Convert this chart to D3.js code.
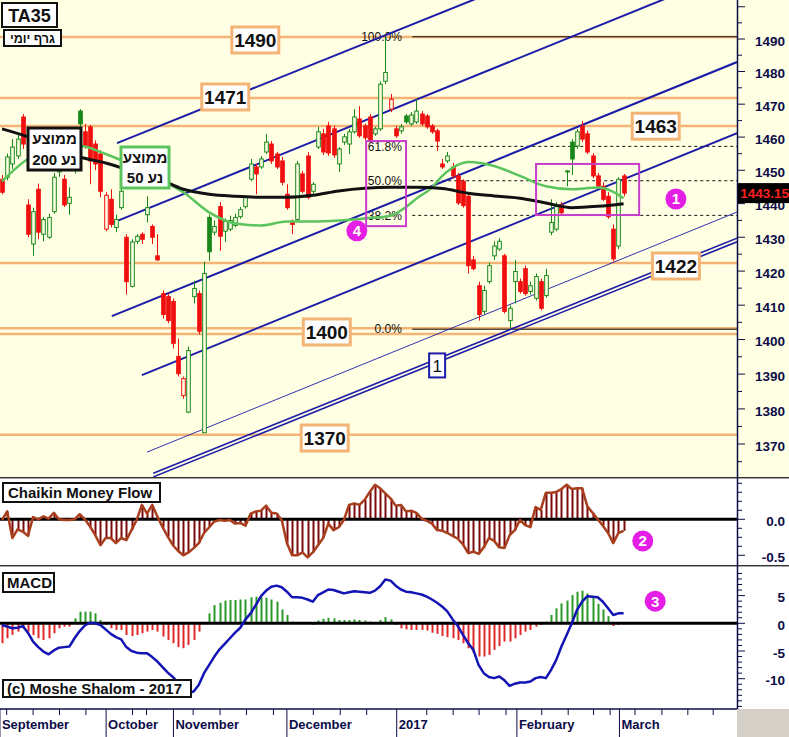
<!DOCTYPE html>
<html>
<head>
<meta charset="utf-8">
<script src="https://d3js.org/d3.v7.min.js"></script>
<style>
  html, body { margin: 0; padding: 0; background: #ffffff; }
  svg { display: block; font-family: "Liberation Sans", Arial, sans-serif; }
</style>
</head>
<body>
<div id="chart"></div>
<script>
// Daily candles, TA35, Sep 2016 - Mar 2017
const opens = [
  1447.3,1447.9,1451.9,1454.3,1466.1,1439.6,1428.0,1444.3,1430.9,1430.0,
  1437.6,1449.5,1447.3,1440.1,1450.4,1467.9,1461.6,1463.1,1457.9,1454.9,
  1432.4,1441.3,1432.9,1438.8,1430.0,1415.5,1428.8,1430.9,1436.7,1433.2,
  1424.5,1413.4,1412.5,1411.1,1395.1,1383.8,1379.1,1412.5,1413.4,1373.2,
  1435.9,1431.5,1439.1,1431.8,1432.4,1433.5,1436.1,1439.1,1447.3,1451.0,
  1451.0,1455.5,1457.9,1454.9,1452.8,1442.8,1434.7,1435.3,1448.9,1454.3,
  1443.7,1457.0,1461.0,1463.4,1462.5,1451.9,1458.5,1457.9,1461.6,1465.5,
  1463.4,1466.1,1461.0,1462.5,1477.0,1468.5,1462.5,1461.9,1466.4,1464.0,
  1464.6,1467.0,1466.4,1463.4,1461.9,1451.9,1452.8,1451.0,1448.3,1446.7,
  1442.2,1423.3,1415.7,1408.2,1416.9,1424.5,1426.5,1424.5,1405.5,1416.9,
  1416.9,1420.7,1414.0,1412.0,1416.9,1412.8,1431.5,1432.4,1439.6,1449.5,
  1458.5,1457.3,1463.4,1461.0,1454.3,1448.3,1445.2,1442.2,1432.4,1427.4,
  1448.3];
const highs = [
  1448.6,1455.0,1459.4,1460.7,1467.0,1441.3,1438.8,1446.0,1436.0,1437.0,
  1449.2,1452.0,1448.6,1444.9,1455.5,1468.5,1464.0,1463.7,1459.0,1456.0,
  1443.4,1444.3,1436.7,1444.9,1430.9,1429.4,1430.9,1431.5,1442.2,1433.8,
  1430.9,1414.3,1413.4,1412.0,1400.3,1389.3,1398.0,1417.2,1414.3,1422.8,
  1436.7,1435.0,1440.5,1435.6,1436.4,1437.0,1439.0,1442.5,1453.4,1451.9,
  1454.3,1461.0,1458.8,1455.5,1454.0,1445.8,1435.3,1452.8,1449.8,1455.5,
  1446.4,1463.1,1462.5,1464.6,1463.5,1457.0,1461.0,1462.5,1468.5,1469.4,
  1464.0,1467.0,1463.1,1477.0,1490.5,1473.1,1463.4,1464.0,1467.0,1467.6,
  1471.5,1467.9,1467.0,1464.0,1462.5,1453.4,1455.5,1452.2,1449.2,1447.3,
  1442.8,1424.5,1416.9,1415.7,1422.5,1428.8,1429.7,1425.1,1410.0,1423.3,
  1417.8,1421.6,1416.9,1419.3,1417.8,1420.7,1441.3,1440.5,1440.5,1450.1,
  1459.4,1462.5,1464.9,1462.0,1455.2,1449.2,1446.4,1443.4,1433.8,1447.9,
  1448.9];
const lows = [
  1442.8,1447.0,1450.4,1453.4,1456.4,1430.0,1424.5,1429.4,1428.8,1429.5,
  1437.0,1448.0,1439.0,1436.7,1449.0,1463.0,1456.5,1445.8,1450.0,1441.9,
  1431.8,1432.9,1431.5,1438.2,1413.1,1415.2,1428.0,1428.0,1434.4,1428.0,
  1423.0,1406.1,1404.7,1397.4,1389.3,1382.9,1378.8,1410.5,1401.5,1373.2,
  1423.0,1430.6,1426.0,1428.6,1431.8,1433.0,1435.5,1438.5,1446.7,1442.8,
  1450.4,1454.9,1451.9,1450.4,1445.5,1438.2,1430.9,1434.7,1443.1,1441.3,
  1443.0,1456.4,1454.6,1454.3,1453.7,1449.5,1457.6,1454.9,1461.0,1459.8,
  1459.1,1458.5,1460.4,1461.9,1476.1,1467.6,1459.8,1461.0,1464.0,1463.4,
  1464.0,1463.4,1462.5,1461.0,1455.8,1450.4,1452.2,1447.6,1439.6,1438.8,
  1419.3,1420.2,1405.5,1407.3,1416.3,1423.3,1426.0,1407.6,1403.2,1410.5,
  1413.4,1412.8,1413.1,1411.4,1408.5,1412.2,1430.6,1431.8,1436.7,1445.2,
  1448.6,1456.4,1458.5,1454.9,1447.6,1444.6,1440.8,1435.5,1422.8,1426.5,
  1442.2];
const closes = [
  1443.4,1454.0,1457.0,1459.4,1457.9,1430.9,1437.6,1431.5,1435.3,1435.9,
  1447.9,1451.0,1439.6,1441.9,1454.3,1464.0,1457.3,1452.8,1451.9,1443.7,
  1442.5,1433.8,1435.3,1443.7,1416.9,1428.6,1430.3,1429.4,1438.8,1430.0,
  1423.3,1407.3,1405.5,1398.9,1390.1,1388.7,1396.8,1414.9,1402.4,1419.3,
  1425.7,1433.2,1430.3,1434.7,1435.0,1435.9,1438.2,1441.9,1451.9,1448.9,
  1453.4,1458.5,1452.8,1451.0,1446.4,1438.8,1433.8,1451.9,1443.7,1441.9,
  1445.8,1461.6,1455.5,1455.2,1454.6,1456.4,1460.1,1461.6,1466.1,1460.4,
  1459.8,1459.1,1462.5,1476.1,1479.7,1471.5,1460.4,1463.1,1464.6,1466.7,
  1467.9,1464.0,1463.1,1461.6,1458.8,1451.0,1454.3,1448.3,1440.2,1439.4,
  1421.6,1420.7,1407.3,1414.3,1421.6,1427.4,1428.8,1408.2,1409.1,1419.9,
  1414.0,1413.4,1415.7,1418.4,1409.1,1418.7,1434.4,1439.1,1437.3,1449.8,
  1453.4,1461.6,1459.4,1455.5,1448.3,1445.2,1441.3,1436.1,1423.6,1447.3,
  1443.15];

// moving averages, read at sampled bars
const ma200Idx = [0,5,10,15,20,25,30,35,40,45,50,55,60,65,70,75,80,85,90,95,100,105,110,115,120];
const ma200 = [1462.5,1460.1,1457.0,1454.0,1452.2,1449.8,1447.6,1444.3,1442.8,1442.2,1441.9,1441.9,
  1442.5,1443.8,1444.6,1444.9,1444.9,1444.5,1443.1,1442.3,1441.6,1440.2,1438.8,1439.2,1440.0];
const ma50Idx = [0,5,10,15,20,25,30,35,40,45,50,55,60,65,70,75,78,80,83,85,88,90,95,100,105,110,115,118,120];
const ma50 = [1446.7,1453.4,1456.4,1457.3,1454.9,1451.6,1447.6,1443.4,1437.4,1434.1,1433.5,1434.7,
  1434.7,1435.0,1435.6,1436.4,1439.0,1441.5,1444.8,1448.3,1451.6,1452.5,1451.3,1448.3,1445.2,1444.3,
  1444.8,1443.5,1441.6];

const cmf = [
  -0.01,0.11,-0.26,-0.14,-0.17,-0.23,0.03,0.0,0.04,0.01,
  0.09,0.0,-0.01,-0.01,0.0,0.07,0.0,-0.10,-0.22,-0.36,
  -0.26,-0.26,-0.33,-0.26,-0.29,-0.15,-0.01,0.20,0.08,0.20,
  0.04,-0.11,-0.24,-0.36,-0.44,-0.50,-0.46,-0.40,-0.33,-0.19,
  -0.11,-0.03,-0.01,-0.02,-0.01,-0.06,-0.05,-0.09,0.08,0.11,
  0.12,0.19,0.09,0.08,-0.01,-0.33,-0.50,-0.50,-0.46,-0.53,
  -0.46,-0.36,-0.26,-0.06,-0.15,-0.11,-0.01,0.20,0.22,0.20,
  0.27,0.38,0.48,0.43,0.36,0.29,0.19,0.20,0.11,0.12,
  0.09,0.01,-0.02,-0.06,-0.15,-0.16,-0.19,-0.23,-0.27,-0.35,
  -0.47,-0.45,-0.48,-0.39,-0.26,-0.30,-0.39,-0.40,-0.22,-0.15,
  -0.01,-0.08,-0.11,0.17,0.13,0.37,0.37,0.38,0.42,0.48,
  0.42,0.43,0.43,0.18,0.09,0.0,-0.09,-0.19,-0.33,-0.19,
  -0.16];

const macdLine = [
  -0.3,-0.6,-0.9,-0.8,-0.5,-1.7,-3.3,-4.3,-5.1,-5.6,
  -4.9,-4.4,-4.3,-4.2,-2.7,-1.4,-0.4,0.1,0.0,-0.3,
  -1.1,-1.9,-2.5,-2.9,-4.3,-5.0,-5.3,-5.4,-5.4,-6.1,
  -6.9,-7.9,-8.9,-9.7,-10.7,-11.7,-12.5,-12.3,-11.1,-9.0,
  -7.5,-6.0,-4.7,-3.7,-2.7,-1.7,-0.8,0.7,1.8,3.3,
  4.9,5.9,6.6,6.8,6.5,5.7,4.7,4.7,4.6,4.3,
  3.9,5.1,5.6,6.1,6.0,5.7,5.4,5.6,5.8,5.7,
  5.6,5.5,5.9,6.7,7.9,7.7,6.8,6.1,5.7,5.6,
  5.4,5.2,4.8,4.3,3.7,3.0,2.1,0.7,-0.5,-2.1,
  -3.6,-4.8,-7.5,-9.0,-9.7,-9.9,-9.6,-10.3,-11.3,-10.9,
  -10.7,-10.7,-10.5,-9.9,-9.7,-9.9,-8.4,-6.6,-4.2,-2.1,
  0.0,2.4,3.9,4.9,4.8,4.7,3.9,2.7,1.5,1.8,
  1.8];
const macdHist = [
  -3.6,-2.7,-2.1,-1.5,-0.9,-1.5,-2.1,-2.7,-3.0,-2.7,
  -1.8,-0.9,-0.6,-0.6,0.9,2.1,2.1,2.1,1.8,0.6,
  -0.2,-0.9,-1.2,-1.2,-2.1,-2.3,-2.1,-1.8,-1.5,-1.2,
  -1.5,-2.4,-3.0,-3.6,-4.3,-4.5,-3.9,-3.0,-1.5,0.2,
  1.8,3.3,3.7,4.1,4.2,4.2,4.3,4.3,4.7,4.8,
  4.7,4.6,4.3,3.9,2.5,1.5,0.3,0.2,0.1,-0.1,
  -0.3,0.5,0.8,1.0,0.9,0.6,0.6,0.6,0.7,0.6,
  0.5,0.3,0.2,0.6,1.1,0.7,-0.3,-0.9,-1.1,-1.2,
  -1.2,-1.2,-1.3,-1.7,-1.9,-2.3,-2.5,-2.7,-3.0,-3.6,
  -4.5,-5.3,-6.0,-6.0,-5.7,-4.8,-4.1,-3.3,-3.3,-2.7,
  -2.1,-1.5,-1.2,-0.6,-0.3,0.3,1.5,2.7,3.6,4.1,
  5.1,5.7,5.9,5.4,4.9,3.5,2.5,1.3,-0.5,-0.3,
  -0.2];

// x axis (bar positions)
const monthLabels = ['September', 'October', 'November', 'December', '2017', 'February', 'March'];
const monthTicks = [-0.4, 20.1, 33.1, 55.0, 76.2, 99.4, 119.2];
const weekTicks = [0.9, 6.0, 11.1, 16.2, 25.2, 27.9, 36.9, 42.1, 47.2, 52.4, 60.1, 65.3, 70.4,
  82.0, 87.1, 92.1, 97.3, 104.2, 109.3, 114.2, 117.4, 122.2, 127.4, 132.4, 137.3];

// drawn annotations: support/resistance, channels, fibonacci
const levels = [1490.6, 1471.9, 1463.4, 1422.4, 1403.3, 1401.6, 1372.6];
const levelTags = ['1490', '1471', '1463', '1422', '1400', '1370'];
const levelTagAt = [48.9, 43.1, 126.2, 130.1, 62.7, 62.3];
const levelTagPrice = [1489.7, 1472.2, 1463.3, 1421.5, 1402.2, 1371.7];
const channelLines = [
  [22.2, 1458.2, 93.4, 1503.7],
  [21.2, 1434.2, 129.9, 1503.7],
  [21.2, 1406.8, 141.9, 1482.9],
  [27.0, 1389.7, 141.9, 1461.2]];
const thinLine = [28.0, 1367.7, 141.9, 1437.5];
const doubleLine = [29.2, 1361.2, 141.9, 1429.2];
const channelTag = { text: '1', at: 84.0, price: 1392.5 };
const fibHigh = 1490.7, fibLow = 1403.0;
const fibRatios = [1, 0.618, 0.5, 0.382, 0];
const fibLabels = ['100.0%', '61.8%', '50.0%', '38.2%', '0.0%'];
const fibLabelAt = 77.2, fibLineFrom = 79.2;
const zones = [[70.3, 1458.8, 78.0, 1433.3], [103.1, 1451.9, 123.0, 1436.6]];

const W = 789, H = 737, axisX = 737;
const BG = '#ffffe4', ORANGE = '#f3b476', BLUE = '#1c1ca6', NAVY = '#0c0c48';
const RED = '#f01010', GREEN = '#18881a', MAGENTA = '#e41ee4';

const x = d3.scaleLinear().domain([0, 120]).range([2, 623.6]);
const y = d3.scaleLog().domain([1370, 1490]).range([444, 39]);
const yC = d3.scaleLinear().domain([-0.5, 0]).range([555.3, 519.3]);
const yM = d3.scaleLinear().domain([0, 5]).range([623.3, 595.6]);

const svg = d3.select('#chart').append('svg')
    .attr('width', W)
    .attr('height', H);

svg.append('rect').attr('width', W).attr('height', H).attr('fill', '#ffffff');
svg.append('rect').attr('width', W).attr('height', 477).attr('fill', BG);
svg.append('rect').attr('x', axisX).attr('y', 709).attr('width', W - axisX).attr('height', H - 709).attr('fill', '#d4d0c8');

const defs = svg.append('defs');
defs.append('clipPath').attr('id', 'clipMain')
    .append('rect').attr('width', axisX).attr('height', 477);
defs.append('clipPath').attr('id', 'clipLow')
    .append('rect').attr('y', 479).attr('width', axisX).attr('height', 229);

const main = svg.append('g').attr('clip-path', 'url(#clipMain)');

// horizontal levels
main.selectAll('.level')
    .data(levels)
    .join('line')
    .attr('class', 'level')
    .attr('x1', 0).attr('x2', axisX)
    .attr('y1', d => y(d)).attr('y2', d => y(d))
    .attr('stroke', ORANGE)
    .attr('stroke-width', 2.5);

// fibonacci retracement
fibRatios.forEach((r, k) => {
    const p = fibLow + r * (fibHigh - fibLow);
    main.append('line')
        .attr('x1', x(fibLineFrom)).attr('x2', axisX)
        .attr('y1', y(p)).attr('y2', y(p))
        .attr('stroke', '#111')
        .attr('stroke-width', 1)
        .attr('stroke-dasharray', (r === 0 || r === 1) ? null : '3,3');
    main.append('text')
        .attr('x', x(fibLabelAt)).attr('y', y(p))
        .attr('dy', '0.35em')
        .attr('text-anchor', 'end')
        .attr('font-size', '12px')
        .attr('fill', '#111')
        .text(fibLabels[k]);
});

// trend channel
const seg = d => `M${x(d[0])},${y(d[1])}L${x(d[2])},${y(d[3])}`;
main.selectAll('.chan')
    .data(channelLines)
    .join('path')
    .attr('class', 'chan')
    .attr('d', seg)
    .attr('stroke', BLUE)
    .attr('stroke-width', 2)
    .attr('fill', 'none');
main.append('path').attr('d', seg(thinLine))
    .attr('stroke', BLUE).attr('stroke-width', 0.9).attr('fill', 'none');
[-1.8, 1.8].forEach(off => {
    main.append('path').attr('d', seg(doubleLine))
        .attr('transform', `translate(0,${off})`)
        .attr('stroke', BLUE).attr('stroke-width', 1.6).attr('fill', 'none');
});

// candles
const idx = d3.range(closes.length);
const isUp = i => i === 0 ? closes[i] >= opens[i] : closes[i] >= closes[i - 1];
const cx = i => Math.round(x(i)) + 0.5;
const candles = main.append('g').selectAll('g')
    .data(idx)
    .join('g');

candles.append('line')
    .attr('x1', cx).attr('x2', cx)
    .attr('y1', i => y(highs[i])).attr('y2', i => y(lows[i]))
    .attr('stroke', i => isUp(i) ? GREEN : RED)
    .attr('stroke-width', 1);

candles.append('rect')
    .attr('x', i => cx(i) - 1.8)
    .attr('width', 3.6)
    .attr('y', i => Math.min(y(opens[i]), y(closes[i])))
    .attr('height', i => Math.max(1, Math.abs(y(opens[i]) - y(closes[i]))))
    .attr('fill', i => closes[i] < opens[i] ? (isUp(i) ? GREEN : RED) : BG)
    .attr('stroke', i => isUp(i) ? GREEN : RED)
    .attr('stroke-width', 1);

// moving averages
const maLine = d3.line().x(d => x(d[0])).y(d => y(d[1])).curve(d3.curveMonotoneX);
main.append('path')
    .attr('d', maLine(ma50Idx.map((d, k) => [d, ma50[k]])))
    .attr('fill', 'none').attr('stroke', '#5cc45c').attr('stroke-width', 2.5);
main.append('path')
    .attr('d', maLine(ma200Idx.map((d, k) => [d, ma200[k]])))
    .attr('fill', 'none').attr('stroke', '#111').attr('stroke-width', 3);

// magenta frames
main.selectAll('.zone')
    .data(zones)
    .join('rect')
    .attr('class', 'zone')
    .attr('x', d => x(d[0])).attr('y', d => y(d[1]))
    .attr('width', d => x(d[2]) - x(d[0]))
    .attr('height', d => y(d[3]) - y(d[1]))
    .attr('fill', 'none')
    .attr('stroke', '#c83ccc')
    .attr('stroke-width', 2);

// level tags
levelTags.forEach((t, k) => {
    const px = x(levelTagAt[k]), py = y(levelTagPrice[k]);
    main.append('rect')
        .attr('x', px - 23.5).attr('y', py - 13)
        .attr('width', 47).attr('height', 26)
        .attr('fill', '#ffffff')
        .attr('stroke', ORANGE).attr('stroke-width', 3);
    main.append('text')
        .attr('x', px).attr('y', py)
        .attr('dy', '0.36em')
        .attr('text-anchor', 'middle')
        .attr('font-size', '19px').attr('font-weight', 'bold')
        .attr('fill', '#111')
        .text(t);
});

main.append('rect')
    .attr('x', x(channelTag.at) - 8).attr('y', y(channelTag.price) - 12)
    .attr('width', 16).attr('height', 24)
    .attr('fill', '#ffffff').attr('stroke', BLUE).attr('stroke-width', 2);
main.append('text')
    .attr('x', x(channelTag.at)).attr('y', y(channelTag.price))
    .attr('dy', '0.36em').attr('text-anchor', 'middle')
    .attr('font-size', '17px').attr('fill', '#111')
    .text(channelTag.text);

// legend boxes
function box(g, bx, by, bw, bh, stroke, sw) {
    g.append('rect')
        .attr('x', bx).attr('y', by).attr('width', bw).attr('height', bh)
        .attr('fill', '#ffffff').attr('stroke', stroke).attr('stroke-width', sw);
}
function label(g, tx, ty, text, size, anchor, rtl) {
    g.append('text')
        .attr('x', tx).attr('y', ty)
        .attr('text-anchor', anchor)
        .attr('direction', rtl ? 'rtl' : null)
        .attr('font-size', size).attr('font-weight', 'bold')
        .attr('fill', '#111')
        .text(text);
}

box(svg, 2, 3, 55, 24, '#111', 2);
label(svg, 29.5, 22, 'TA35', '18px', 'middle');
box(svg, 4, 30, 57, 16, '#111', 2);
label(svg, 32.5, 43, 'גרף יומי', '12.5px', 'middle', true);
box(svg, 28, 128, 53, 42, '#111', 3);
label(svg, 54.5, 144, 'ממוצע', '15px', 'middle', true);
label(svg, 54.5, 165, 'נע 200', '15px', 'middle', true);
box(svg, 121, 147, 48, 41, '#5cc45c', 3);
label(svg, 145, 163, 'ממוצע', '15px', 'middle', true);
label(svg, 145, 183, 'נע 50', '15px', 'middle', true);

// panel separators
[[477, 479], [565, 567]].forEach(s => {
    svg.append('rect').attr('x', 0).attr('y', s[0]).attr('width', W).attr('height', s[1] - s[0]).attr('fill', '#a8a8a8');
    svg.append('line').attr('x1', 0).attr('x2', W).attr('y1', s[0] + 0.5).attr('y2', s[0] + 0.5).attr('stroke', '#333');
});

// Chaikin money flow
const low = svg.append('g').attr('clip-path', 'url(#clipLow)');
low.selectAll('.cmfBar')
    .data(idx)
    .join('line')
    .attr('class', 'cmfBar')
    .attr('x1', cx).attr('x2', cx)
    .attr('y1', yC(0)).attr('y2', i => yC(cmf[i]))
    .attr('stroke', '#7b0a0a').attr('stroke-width', 2);
low.append('line')
    .attr('x1', 0).attr('x2', axisX).attr('y1', yC(0)).attr('y2', yC(0))
    .attr('stroke', '#000').attr('stroke-width', 3);
low.append('path')
    .attr('d', d3.line().x(i => x(i)).y(i => yC(cmf[i]))(idx))
    .attr('fill', 'none').attr('stroke', '#a83e1c').attr('stroke-width', 2.5)
    .attr('stroke-linejoin', 'round');

// MACD
low.selectAll('.macdBar')
    .data(idx)
    .join('rect')
    .attr('class', 'macdBar')
    .attr('x', i => cx(i) - 1)
    .attr('width', 2)
    .attr('y', i => Math.min(yM(0), yM(macdHist[i])))
    .attr('height', i => Math.abs(yM(macdHist[i]) - yM(0)))
    .attr('fill', i => macdHist[i] >= 0 ? '#2a9a2a' : '#e02828');
low.append('line')
    .attr('x1', 0).attr('x2', axisX).attr('y1', yM(0)).attr('y2', yM(0))
    .attr('stroke', '#000').attr('stroke-width', 3);
low.append('path')
    .attr('d', d3.line().x(i => x(i)).y(i => yM(macdLine[i]))(idx))
    .attr('fill', 'none').attr('stroke', '#1414b4').attr('stroke-width', 2.5)
    .attr('stroke-linejoin', 'round');

box(svg, 3, 483, 157, 19, '#111', 2);
label(svg, 8, 498, 'Chaikin Money Flow', '15px', 'start');
box(svg, 3, 573, 51, 19, '#111', 2);
label(svg, 7, 588, 'MACD', '15px', 'start');
box(svg, 3, 680, 188, 17, '#111', 2);
label(svg, 7, 694, '(c) Moshe Shalom - 2017', '15px', 'start');

// numbered markers
const markers = [
    { n: '1', at: 130.1, yy: y(1441.4) },
    { n: '2', at: 123.7, yy: yC(-0.30) },
    { n: '3', at: 126.1, yy: yM(4.0) },
    { n: '4', at: 68.5, yy: y(1431.9) }];
markers.forEach(m => {
    svg.append('circle')
        .attr('cx', x(m.at)).attr('cy', m.yy).attr('r', 10.5)
        .attr('fill', MAGENTA);
    svg.append('text')
        .attr('x', x(m.at)).attr('y', m.yy).attr('dy', '0.36em')
        .attr('text-anchor', 'middle')
        .attr('font-size', '15px').attr('font-weight', 'bold')
        .attr('fill', '#ffffff')
        .text(m.n);
});

// right axes
svg.append('line').attr('x1', axisX + 0.5).attr('x2', axisX + 0.5).attr('y1', 0).attr('y2', 709)
    .attr('stroke', NAVY).attr('stroke-width', 1.5);

function rightAxis(scale, ticks, isMajor, hasLabel, fmt, top, bottom) {
    ticks.forEach(t => {
        const ty = scale(t);
        if (ty < top || ty > bottom) return;
        const major = isMajor(t);
        svg.append('line')
            .attr('x1', axisX).attr('x2', axisX + (major ? 8 : 5))
            .attr('y1', ty).attr('y2', ty)
            .attr('stroke', NAVY).attr('stroke-width', 1);
        if (major && hasLabel(t)) {
            svg.append('text')
                .attr('x', 785).attr('y', ty + 2)
                .attr('dy', '0.35em').attr('text-anchor', 'end')
                .attr('font-size', '13.5px').attr('font-weight', 'bold')
                .attr('fill', NAVY)
                .text(fmt(t));
        }
    });
}
rightAxis(y, d3.range(1365, 1501, 5), t => t % 10 === 0, t => t <= 1490, t => t, 2, 470);
rightAxis(yC, d3.range(-0.625, 0.7, 0.125), t => Math.abs(t) < 1e-9 || Math.abs(t + 0.5) < 1e-9, t => true,
    t => Math.abs(t) < 1e-9 ? '0.0' : t.toFixed(1), 481, 564);
rightAxis(yM, d3.range(-15, 11, 1), t => t % 5 === 0 && t >= -10 && t <= 5, t => true, t => t, 569, 707);

// last price tag
const last = closes[closes.length - 1];
svg.append('rect')
    .attr('x', axisX + 1).attr('y', y(last) - 10)
    .attr('width', W - axisX - 1).attr('height', 20)
    .attr('fill', '#000');
svg.append('text')
    .attr('x', 789).attr('y', y(last))
    .attr('dy', '0.36em').attr('text-anchor', 'end')
    .attr('font-size', '13.5px').attr('font-weight', 'bold')
    .attr('fill', '#ff2020')
    .text(last.toFixed(2));

// x axis
svg.append('line').attr('x1', 0).attr('x2', axisX).attr('y1', 709).attr('y2', 709)
    .attr('stroke', NAVY).attr('stroke-width', 1.5);
weekTicks.forEach(t => {
    svg.append('line')
        .attr('x1', x(t)).attr('x2', x(t)).attr('y1', 709).attr('y2', 715)
        .attr('stroke', NAVY).attr('stroke-width', 1);
});
monthTicks.forEach((t, k) => {
    svg.append('line')
        .attr('x1', x(t)).attr('x2', x(t)).attr('y1', 709).attr('y2', 737)
        .attr('stroke', NAVY).attr('stroke-width', 1);
    svg.append('text')
        .attr('x', x(t) + 2).attr('y', 729)
        .attr('font-size', '13px').attr('font-weight', 'bold')
        .attr('fill', NAVY)
        .text(monthLabels[k]);
});
</script>
</body>
</html>
